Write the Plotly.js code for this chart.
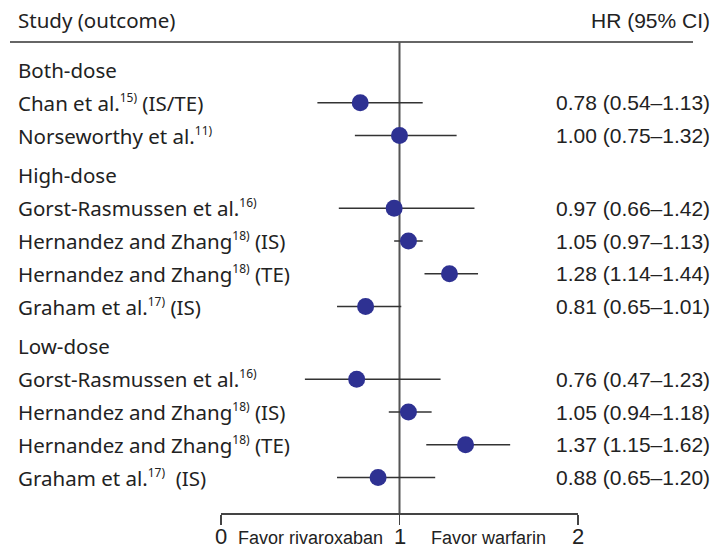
<!DOCTYPE html>
<html>
<head>
<meta charset="utf-8">
<script src="https://cdn.plot.ly/plotly-3.0.1.min.js"></script>
<style>html,body{margin:0;padding:0;background:#fff;}#chart{width:714px;height:547px;}</style>
</head>
<body>
<div id="chart"></div>
<script>
// ---- data ----
const groupNames = ['Both-dose', 'High-dose', 'Low-dose'];
const studyGroup = [0, 0, 1, 1, 1, 1, 2, 2, 2, 2];
const studyNames = ['Chan et al.', 'Norseworthy et al.', 'Gorst-Rasmussen et al.', 'Hernandez and Zhang',
  'Hernandez and Zhang', 'Graham et al.', 'Gorst-Rasmussen et al.', 'Hernandez and Zhang',
  'Hernandez and Zhang', 'Graham et al.'];
const studyRefs = ['15)', '11)', '16)', '18)', '18)', '17)', '16)', '18)', '18)', '17)'];
const studyOutcome = [' (IS/TE)', '', '', ' (IS)', ' (TE)', ' (IS)', '', ' (IS)', ' (TE)', '\u00a0 (IS)'];
const hr = [0.78, 1.00, 0.97, 1.05, 1.28, 0.81, 0.76, 1.05, 1.37, 0.88];
const lo = [0.54, 0.75, 0.66, 0.97, 1.14, 0.65, 0.47, 0.94, 1.15, 0.65];
const hi = [1.13, 1.32, 1.42, 1.13, 1.44, 1.01, 1.23, 1.18, 1.62, 1.20];
const tickVals = [0, 1, 2];
const tickText = ['0', '1', '2'];
const favorLeft = 'Favor rivaroxaban';
const favorRight = 'Favor warfarin';
const headLeft = 'Study (outcome)';
const headRight = 'HR (95% CI)';

// ---- layout helpers ----
const W = 714, H = 547;
const ROW0 = 70, ROWH = 32.8, GAP = 7 / 32.8;
const pxToRow = px => (px - ROW0) / ROWH;

// row positions (headers + studies)
const yHeader = [], yStudy = [];
let r = 0;
groupNames.forEach((g, gi) => {
  yHeader.push(r + gi * GAP); r++;
  studyGroup.forEach((sg, i) => { if (sg === gi) { yStudy[i] = r + gi * GAP; r++; } });
});

const leftFont = {family: 'Noto Sans, sans-serif', size: 20.5, color: '#222'};
const rightFont = {family: 'Liberation Sans, Arial, sans-serif', size: 21, color: '#222'};

const annotations = [];
function addText(text, xp, anchor, y, font, xref, extra) {
  annotations.push(Object.assign({text: text, x: xp, xref: xref || 'paper', xanchor: anchor,
    y: y, yref: 'y', yanchor: 'middle', showarrow: false, font: font}, extra || {}));
}
const LX = 16 / W, RX = 712 / W;
addText(headLeft, LX, 'left', pxToRow(20), leftFont);
addText(headRight, RX, 'right', pxToRow(20), rightFont);
groupNames.forEach((g, gi) => addText(g, LX, 'left', yHeader[gi], leftFont));
studyNames.forEach((s, i) => {
  addText(s + '<sup><span style="font-size:12px">' + studyRefs[i] + '</span></sup>' + studyOutcome[i],
    LX, 'left', yStudy[i], leftFont);
  addText(hr[i].toFixed(2) + ' (' + lo[i].toFixed(2) + '\u2013' + hi[i].toFixed(2) + ')',
    RX, 'right', yStudy[i], rightFont);
});
const favFont = {family: 'Liberation Sans, Arial, sans-serif', size: 18, color: '#222'};
addText(favorLeft, 0.5, 'center', pxToRow(538), favFont, 'x');
addText(favorRight, 1.5, 'center', pxToRow(538), favFont, 'x');
const tickFont = {family: 'Liberation Sans, Arial, sans-serif', size: 22, color: '#222'};
tickVals.forEach((v, i) => addText(tickText[i], v, 'center', pxToRow(536), tickFont, 'x',
  {height: 20, valign: 'middle', borderpad: 0}));

const trace = {
  type: 'scatter', mode: 'markers',
  x: hr, y: yStudy,
  marker: {size: 17, color: '#2E3192'},
  error_x: {type: 'data', symmetric: false,
    array: hr.map((v, i) => hi[i] - v),
    arrayminus: hr.map((v, i) => v - lo[i]),
    width: 0, thickness: 1.5, color: '#333'},
  hoverinfo: 'skip', cliponaxis: false
};

const layout = {
  width: W, height: H,
  margin: {l: 0, r: 0, t: 0, b: 0},
  paper_bgcolor: '#fff', plot_bgcolor: '#fff',
  showlegend: false,
  xaxis: {domain: [221 / W, 578 / W], range: [0, 2], anchor: 'free', position: 1 - 513 / H,
    showgrid: false, zeroline: false, showline: true, linecolor: '#444', linewidth: 1.5,
    ticks: 'outside', ticklen: 10, tickwidth: 1.5, tickcolor: '#444',
    tickvals: tickVals, showticklabels: false},
  yaxis: {domain: [0, 1], range: [pxToRow(H), pxToRow(0)], visible: false, showgrid: false, zeroline: false},
  shapes: [
    {type: 'line', xref: 'paper', yref: 'y', x0: 10 / W, x1: 693 / W, y0: pxToRow(42), y1: pxToRow(42),
      line: {color: '#333', width: 1.5}, layer: 'below'},
    {type: 'line', xref: 'x', yref: 'y', x0: 1, x1: 1, y0: pxToRow(42), y1: pxToRow(513),
      line: {color: '#555', width: 2}, layer: 'below'}
  ],
  annotations: annotations
};

Plotly.newPlot('chart', [trace], layout, {displayModeBar: false, staticPlot: true});
</script>
</body>
</html>
